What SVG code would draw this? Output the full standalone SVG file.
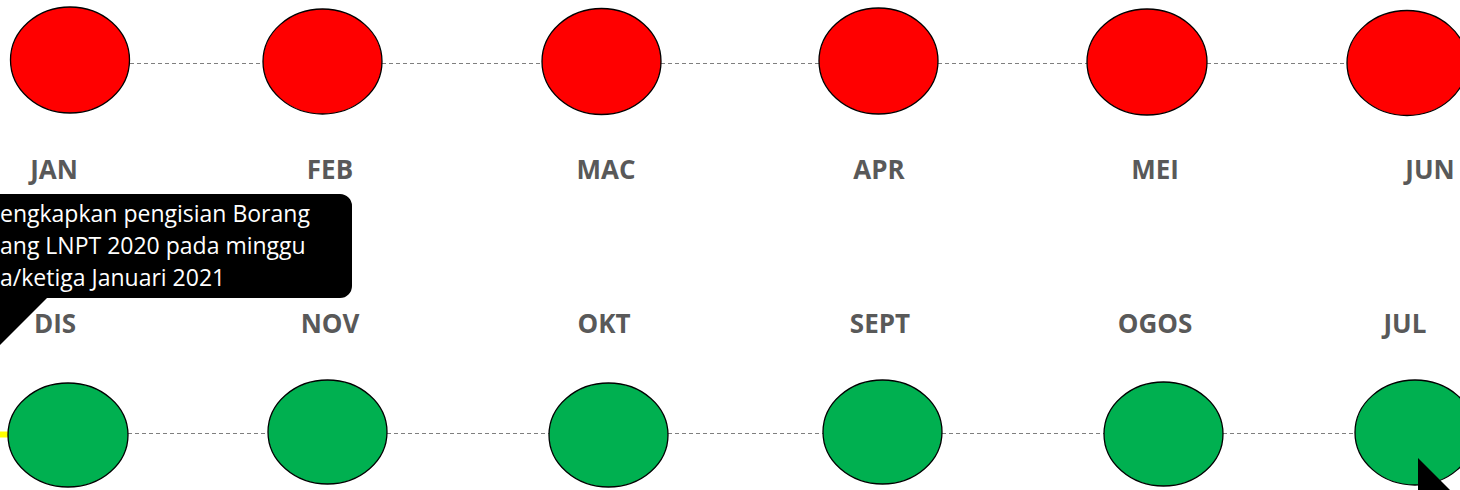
<svg xmlns="http://www.w3.org/2000/svg" width="1460" height="490" viewBox="0 0 1460 490">
<style>
.red{fill:#ff0000;stroke:#000;stroke-width:1.3}
.green{fill:#00b050;stroke:#000;stroke-width:1.3}
.dash{stroke:#7f7f7f;stroke-width:1.2;stroke-dasharray:4 3;fill:none}
.lbl{font-family:"Open Sans","Liberation Sans",sans-serif;font-weight:bold;font-size:26px;fill:#595959;text-anchor:middle}
.call{font-family:"Open Sans","Liberation Sans",sans-serif;font-size:23px;fill:#fff}
</style>
<rect width="1460" height="490" fill="#fff"/>
<g id="connectors">
<line class="dash" x1="130" y1="63.5" x2="263" y2="63.5"/>
<line class="dash" x1="382" y1="63.5" x2="542" y2="63.5"/>
<line class="dash" x1="661" y1="63.5" x2="819" y2="63.5"/>
<line class="dash" x1="938" y1="63.5" x2="1087" y2="63.5"/>
<line class="dash" x1="1207" y1="63.5" x2="1348" y2="63.5"/>
<line class="dash" x1="128" y1="433.5" x2="268" y2="433.5"/>
<line class="dash" x1="387" y1="433.5" x2="549" y2="433.5"/>
<line class="dash" x1="668" y1="433.5" x2="823" y2="433.5"/>
<line class="dash" x1="942" y1="433.5" x2="1104" y2="433.5"/>
<line class="dash" x1="1223" y1="433.5" x2="1355" y2="433.5"/>
<line x1="0" y1="434.5" x2="9" y2="434.5" stroke="#ffff00" stroke-width="6"/>
</g>
<g id="jan"><ellipse class="red" cx="70" cy="60" rx="59.5" ry="53"/><text class="lbl" x="54" y="179">JAN</text></g>
<g id="feb"><ellipse class="red" cx="322.5" cy="61.5" rx="59.5" ry="52.5"/><text class="lbl" x="330" y="179">FEB</text></g>
<g id="mac"><ellipse class="red" cx="601.5" cy="61.5" rx="59.5" ry="53"/><text class="lbl" x="606" y="179">MAC</text></g>
<g id="apr"><ellipse class="red" cx="878.5" cy="61" rx="59.5" ry="53"/><text class="lbl" x="879" y="179">APR</text></g>
<g id="mei"><ellipse class="red" cx="1147" cy="62" rx="60" ry="53"/><text class="lbl" x="1155" y="179">MEI</text></g>
<g id="jun"><ellipse class="red" cx="1407" cy="63" rx="60" ry="52.5"/><text class="lbl" x="1430" y="179">JUN</text></g>
<g id="dis"><ellipse class="green" cx="68" cy="435" rx="60" ry="52"/><text class="lbl" x="55" y="333">DIS</text></g>
<g id="nov"><ellipse class="green" cx="327.5" cy="432" rx="59.5" ry="52"/><text class="lbl" x="330" y="333">NOV</text></g>
<g id="okt"><ellipse class="green" cx="608.5" cy="435" rx="59.5" ry="52"/><text class="lbl" x="604" y="333">OKT</text></g>
<g id="sept"><ellipse class="green" cx="882.5" cy="432" rx="59.5" ry="52"/><text class="lbl" x="880" y="333">SEPT</text></g>
<g id="ogos"><ellipse class="green" cx="1163.5" cy="434" rx="59.5" ry="52"/><text class="lbl" x="1155" y="333">OGOS</text></g>
<g id="jul"><ellipse class="green" cx="1415" cy="432.5" rx="60" ry="52.5"/><text class="lbl" x="1405" y="333">JUL</text></g>
<g id="callout">
<path d="M-30,194 H340 A12,12 0 0 1 352,206 V286 A12,12 0 0 1 340,298 H47 L-30,375 Z" fill="#000"/>
<text class="call" x="0" y="222">engkapkan pengisian Borang</text>
<text class="call" x="0" y="254">ang LNPT 2020 pada minggu</text>
<text class="call" x="0" y="286">a/ketiga Januari 2021</text>
</g>
<g id="pointer2">
<polygon points="1418,458 1450,490 1418,490" fill="#000"/>
</g>
</svg>
